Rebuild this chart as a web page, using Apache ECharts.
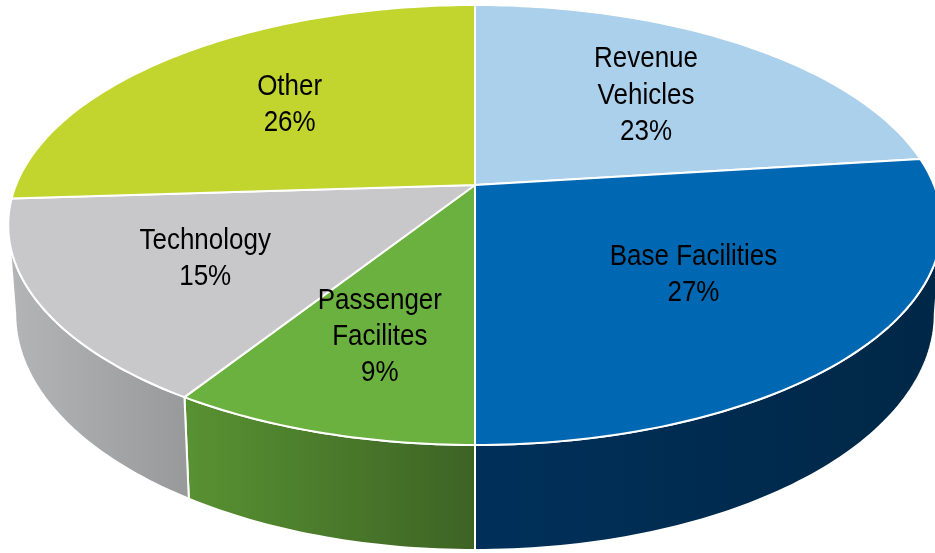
<!DOCTYPE html>
<html><head><meta charset="utf-8">
<script src="https://cdn.jsdelivr.net/npm/echarts@6/dist/echarts.min.js"></script>
<style>html,body{margin:0;padding:0;background:#fff}#c{width:935px;height:553px}</style>
</head><body><div id="c"></div>
<script>
// Data
const categories = ['Revenue\nVehicles', 'Base Facilities', 'Passenger\nFacilites', 'Technology', 'Other'];
const shares = [23, 27, 9, 15, 26];

// Styles
const topColors = ['#abd0ec', '#0068b2', '#6bb13f', '#c8c8ca', '#c2d42e'];
const sideColors = [['#8fb4d2', '#7aa0bf'], ['#00305a', '#002746'], ['#589232', '#3d6324'], ['#b4b5b7', '#98999b'], ['#a3b326', '#8f9d1f']];

// Projection of a tilted disc (perspective)
const CX = 475, CY = 185, A = 459, B = 212.7, PA = 0.1818, DEPTH = 86, SHRINK = 0.985;
function proj(t, r) {
  const s = Math.sin(t), c = Math.cos(t), d = 1 + PA * r * c;
  return [CX + A * r * s / d, CY - B * r * c / d];
}
function projBottom(t) {
  const s = Math.sin(t), c = Math.cos(t), d = 1 + PA * c;
  return [CX + SHRINK * A * s / d, CY - B * c / d + DEPTH / d];
}
const total = shares.reduce((a, b) => a + b, 0);
const starts = [];
let acc = 0;
shares.forEach(v => { starts.push(acc / total * Math.PI * 2); acc += v; });
const tR = Math.acos(-PA), tL = Math.PI * 2 - tR;

function arc(t1, t2, fn) {
  const n = Math.max(6, Math.ceil((t2 - t1) / (Math.PI / 180)));
  const pts = [];
  for (let k = 0; k <= n; k++) pts.push(fn(t1 + (t2 - t1) * k / n));
  return pts;
}

function renderItem(params, api) {
  const i = params.dataIndex;
  const sweep = api.value(0) / total * Math.PI * 2;
  const t1 = starts[i], t2 = t1 + sweep;
  const children = [];
  const v1 = Math.max(t1, tR), v2 = Math.min(t2, tL);
  if (v2 > v1) {
    const topArc = arc(v1, v2, t => proj(t, 1));
    const botArc = arc(v1, v2, projBottom).reverse();
    children.push({
      type: 'polygon', z2: 1,
      shape: { points: topArc.concat(botArc) },
      style: {
        fill: { type: 'linear', x: 0, y: 0, x2: 1, y2: 0,
          colorStops: [{ offset: 0, color: sideColors[i][0] }, { offset: 1, color: sideColors[i][1] }] },
        stroke: '#ffffff', lineWidth: 2, lineJoin: 'round'
      }
    });
  }
  const facePts = [proj(0, 0)].concat(arc(t1, t2, t => proj(t, 1)));
  children.push({
    type: 'polygon', z2: 10,
    shape: { points: facePts },
    style: { fill: topColors[i], stroke: '#ffffff', lineWidth: 2, lineJoin: 'round' }
  });
  const half = sweep / 2;
  const f = 2 * Math.sin(half) / (3 * half);
  const p = proj(t1 + half, f);
  children.push({
    type: 'text', z2: 20, x: p[0], y: p[1], scaleY: 1.17,
    style: {
      text: categories[i] + '\n' + api.value(0) + '%',
      x: 0, y: 0, fill: '#000000', fontSize: 26, lineHeight: 31,
      fontFamily: 'Liberation Sans, Arial, sans-serif',
      align: 'center', verticalAlign: 'middle'
    }
  });
  return { type: 'group', children };
}

const chart = echarts.init(document.getElementById('c'), null, { renderer: 'canvas' });
chart.setOption({
  animation: false,
  backgroundColor: '#ffffff',
  series: [{
    type: 'custom', coordinateSystem: 'none', silent: true,
    renderItem,
    data: shares.map((v, i) => ({ name: categories[i], value: v }))
  }]
});
</script></body></html>
